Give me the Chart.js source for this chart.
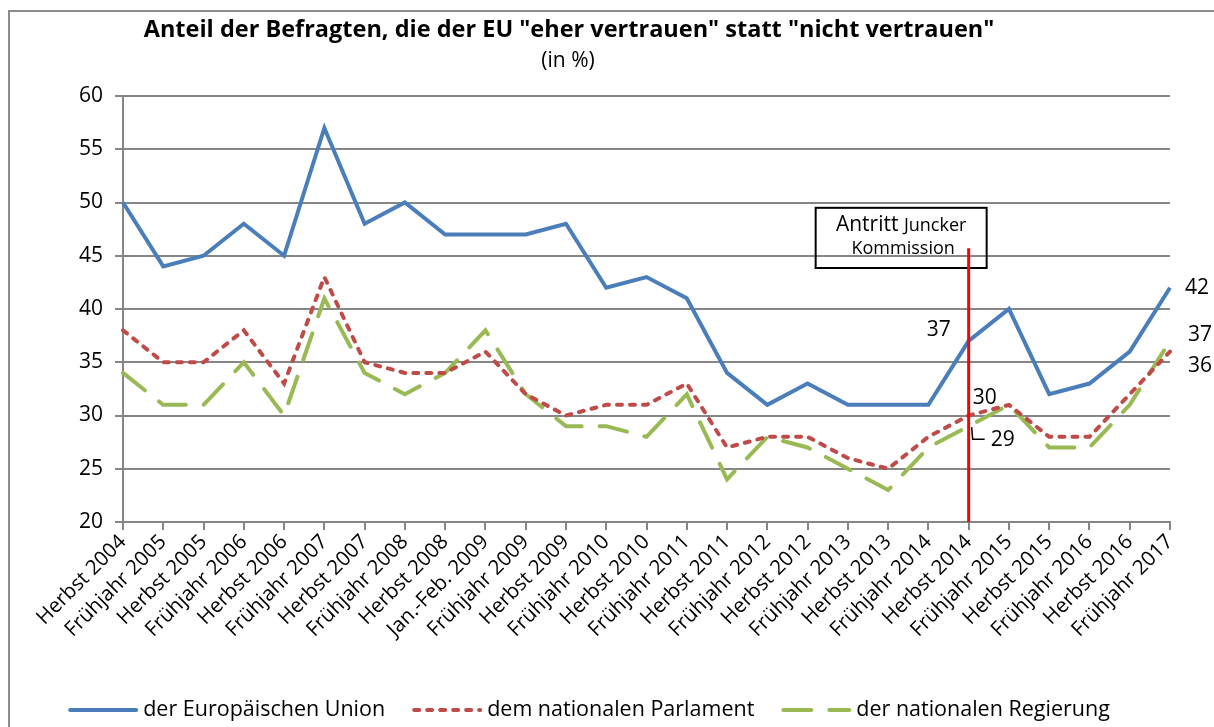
<!DOCTYPE html>
<html>
<head>
<meta charset="utf-8">
<script src="https://cdn.jsdelivr.net/npm/chart.js@4.4.1/dist/chart.umd.min.js"></script>
<style>
  body { margin: 0; background: #fff; }
  #wrap { width: 1214px; height: 727px; }
</style>
</head>
<body>
<div id="wrap"><canvas id="chart" width="1214" height="727"></canvas></div>
<script>
// data
const labels = ['Herbst 2004', 'Frühjahr 2005', 'Herbst 2005', 'Frühjahr 2006', 'Herbst 2006',
  'Frühjahr 2007', 'Herbst 2007', 'Frühjahr 2008', 'Herbst 2008', 'Jan.-Feb. 2009',
  'Frühjahr 2009', 'Herbst 2009', 'Frühjahr 2010', 'Herbst 2010', 'Frühjahr 2011',
  'Herbst 2011', 'Frühjahr 2012', 'Herbst 2012', 'Frühjahr 2013', 'Herbst 2013',
  'Frühjahr 2014', 'Herbst 2014', 'Frühjahr 2015', 'Herbst 2015', 'Frühjahr 2016',
  'Herbst 2016', 'Frühjahr 2017'];
const euUnion   = [50, 44, 45, 48, 45, 57, 48, 50, 47, 47, 47, 48, 42, 43, 41, 34, 31, 33, 31, 31, 31, 37, 40, 32, 33, 36, 42];
const parlament = [38, 35, 35, 38, 33, 43, 35, 34, 34, 36, 32, 30, 31, 31, 33, 27, 28, 28, 26, 25, 28, 30, 31, 28, 28, 32, 36];
const regierung = [34, 31, 31, 35, 30, 41, 34, 32, 34, 38, 32, 29, 29, 28, 32, 24, 28, 27, 25, 23, 27, 29, 31, 27, 27, 31, 37];
const seriesNames = ['der Europäischen Union', 'dem nationalen Parlament', 'der nationalen Regierung'];
const yMin = 20, yMax = 60, yStep = 5;

const titleText = 'Anteil der Befragten, die der EU "eher vertrauen" statt "nicht vertrauen"';
const subtitleText = '(in %)';
const markerLabel = 'Herbst 2014';

const FONT = "'Open Sans', 'Noto Sans', sans-serif";
const GRID = '#868686';

const decor = {
  id: 'decor',
  afterDatasetsDraw(chart) {
    const { ctx, scales: { x, y } } = chart;
    const mi = labels.indexOf(markerLabel);
    const mx = x.getPixelForValue(mi);

    ctx.save();
    // outer frame
    ctx.strokeStyle = '#8c8c8c';
    ctx.lineWidth = 2;
    ctx.strokeRect(9, 11, 1400, 900);

    // title
    ctx.fillStyle = '#000';
    ctx.textAlign = 'center';
    ctx.textBaseline = 'middle';
    ctx.font = 'bold 23.5px ' + FONT;
    ctx.fillText(titleText, 569, 30);
    ctx.font = '21px ' + FONT;
    ctx.fillText(subtitleText, 568, 61);

    // Juncker box + red line
    const boxTop = y.getPixelForValue(49.5), boxBot = y.getPixelForValue(43.85);
    const bl = mx - 153, bw = 171;
    ctx.strokeStyle = '#000';
    ctx.lineWidth = 2;
    ctx.strokeRect(bl, boxTop, bw, boxBot - boxTop);
    ctx.font = '21px ' + FONT;
    const w1 = ctx.measureText('Antritt ').width;
    ctx.font = '18px ' + FONT;
    const w2 = ctx.measureText('Juncker').width;
    const bx = bl + bw / 2 - (w1 + w2) / 2;
    ctx.textAlign = 'left';
    ctx.font = '21px ' + FONT;
    ctx.fillText('Antritt ', bx, boxTop + 17);
    ctx.font = '18px ' + FONT;
    ctx.fillText('Juncker', bx + w1, boxTop + 18);
    ctx.textAlign = 'center';
    ctx.fillText('Kommission', bl + bw / 2 + 2, boxTop + 41);

    ctx.strokeStyle = '#ff0000';
    ctx.lineWidth = 3;
    ctx.beginPath();
    ctx.moveTo(mx, y.getPixelForValue(45.7));
    ctx.lineTo(mx, y.bottom);
    ctx.stroke();

    // value labels
    ctx.font = '21px ' + FONT;
    ctx.fillStyle = '#000';
    ctx.textAlign = 'center';
    ctx.fillText(String(euUnion[mi]), mx - 30, y.getPixelForValue(euUnion[mi]) - 11);
    ctx.fillText(String(parlament[mi]), mx + 16, y.getPixelForValue(parlament[mi]) - 17);
    const gy = y.getPixelForValue(regierung[mi]);
    ctx.fillText(String(regierung[mi]), mx + 34, gy + 14);
    ctx.strokeStyle = '#000';
    ctx.lineWidth = 1.5;
    ctx.beginPath();
    ctx.moveTo(mx + 3, gy + 1);
    ctx.lineTo(mx + 4, gy + 13);
    ctx.lineTo(mx + 16, gy + 13);
    ctx.stroke();

    const last = labels.length - 1, lx = x.getPixelForValue(last) + 15;
    ctx.textAlign = 'left';
    ctx.fillText(String(euUnion[last]), lx, y.getPixelForValue(euUnion[last]));
    ctx.fillText(String(regierung[last]), lx + 3, y.getPixelForValue(regierung[last]) - 6);
    ctx.fillText(String(parlament[last]), lx + 3, y.getPixelForValue(parlament[last]) + 14);

    // legend
    ctx.font = '21.5px ' + FONT;
    const sample = 70, gapText = 5, gapItem = 27, ly = 710;
    const items = chart.data.datasets.map(ds => ({ ds, w: sample + gapText + ctx.measureText(ds.label).width }));
    const total = items.reduce((s, it) => s + it.w, 0) + gapItem * (items.length - 1);
    let cx = 589 - total / 2;
    items.forEach(({ ds, w }) => {
      ctx.strokeStyle = ds.borderColor;
      ctx.lineWidth = ds.borderWidth;
      ctx.lineCap = 'round';
      ctx.setLineDash(ds.borderDash || []);
      ctx.beginPath();
      ctx.moveTo(cx + 2, ly);
      ctx.lineTo(cx + sample - 2, ly);
      ctx.stroke();
      ctx.setLineDash([]);
      ctx.fillStyle = '#000';
      ctx.textAlign = 'left';
      ctx.fillText(ds.label, cx + sample + gapText, ly);
      cx += w + gapItem;
    });
    ctx.restore();
  }
};

new Chart(document.getElementById('chart'), {
  type: 'line',
  data: {
    labels: labels,
    datasets: [
      { label: seriesNames[0], data: euUnion, borderColor: '#4a7ebb', borderWidth: 4, borderDash: [] },
      { label: seriesNames[1], data: parlament, borderColor: '#be4b48', borderWidth: 4, borderDash: [5, 8], borderCapStyle: 'round' },
      { label: seriesNames[2], data: regierung, borderColor: '#98b954', borderWidth: 4, borderDash: [28, 18], borderCapStyle: 'round' }
    ]
  },
  options: {
    responsive: false,
    animation: false,
    events: [],
    elements: { point: { radius: 0 }, line: { tension: 0 } },
    layout: { padding: { top: 96, right: 44, bottom: 55, left: 0 } },
    plugins: { legend: { display: false }, title: { display: false }, tooltip: { enabled: false } },
    scales: {
      x: {
        offset: false,
        grid: { drawOnChartArea: false, drawTicks: true, tickLength: 8, color: GRID, lineWidth: 2 },
        border: { display: true, color: GRID, width: 2 },
        ticks: { autoSkip: false, maxRotation: 45, minRotation: 45, padding: 0, color: '#000', font: { family: FONT, size: 20.5 } },
        afterFit(scale) { scale.height = 150; }
      },
      y: {
        min: yMin, max: yMax,
        grid: { color: GRID, lineWidth: 2, tickLength: 8 },
        border: { display: true, color: GRID, width: 2 },
        ticks: { stepSize: yStep, padding: 12, color: '#000', font: { family: FONT, size: 21 } },
        afterFit(scale) { scale.width = 123; }
      }
    }
  },
  plugins: [decor]
});
</script>
</body>
</html>
